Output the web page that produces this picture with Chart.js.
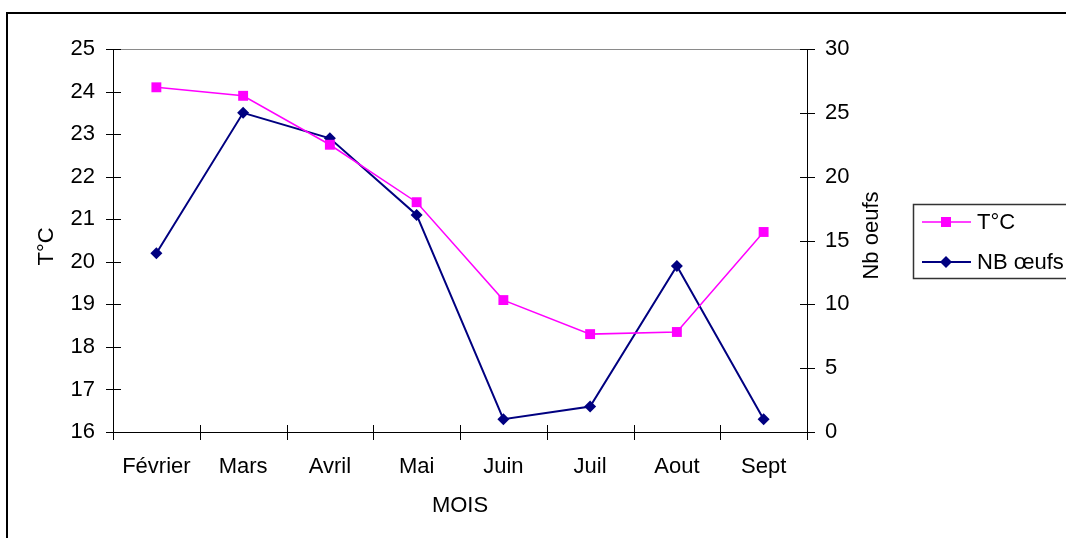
<!DOCTYPE html>
<html>
<head>
<meta charset="utf-8">
<script src="https://cdn.jsdelivr.net/npm/chart.js@4/dist/chart.umd.min.js"></script>
<style>
  html, body { margin: 0; padding: 0; background: #fff; }
  #wrap { position: relative; width: 1066px; height: 538px; overflow: hidden; }
  #frame { position: absolute; left: 6px; top: 12px; width: 1200px; height: 700px; border: 2px solid #000; box-sizing: border-box; }
  canvas { position: absolute; left: 0; top: 0; }
</style>
</head>
<body>
<div id="wrap">
  <div id="frame"></div>
  <canvas id="c" width="1066" height="538"></canvas>
</div>
<script>
const categories = ['Février', 'Mars', 'Avril', 'Mai', 'Juin', 'Juil', 'Aout', 'Sept'];
const tempValues = [24.1, 23.9, 22.75, 21.4, 19.1, 18.3, 18.35, 20.7];
const eggValues = [14, 25, 23, 17, 1, 2, 13, 1];
const tempAxis = [16, 25, 1];   // min, max, step
const eggAxis = [0, 30, 5];     // min, max, step
const seriesNames = ['T°C', 'NB œufs'];
const axisTitles = ['T°C', 'Nb oeufs', 'MOIS'];

const FONT = '"Liberation Sans", Arial, sans-serif';
const FS = 22;

const customPlugin = {
  id: 'custom',
  beforeDatasetsDraw(chart) {
    const ctx = chart.ctx;
    const a = chart.chartArea;
    const xs = chart.scales.x, ys = chart.scales.y, y1 = chart.scales.y1;
    ctx.save();
    ctx.strokeStyle = '#8a8a8a';
    ctx.lineWidth = 1;
    ctx.beginPath();
    ctx.moveTo(a.left, a.top + 0.5); ctx.lineTo(a.right, a.top + 0.5);
    ctx.stroke();
    ctx.strokeStyle = '#000';
    ctx.lineWidth = 1;
    ctx.beginPath();
    ctx.moveTo(a.left + 0.5, a.top); ctx.lineTo(a.left + 0.5, a.bottom);
    ctx.moveTo(a.right + 0.5, a.top); ctx.lineTo(a.right + 0.5, a.bottom);
    ctx.moveTo(a.left, a.bottom + 0.5); ctx.lineTo(a.right, a.bottom + 0.5);
    ys.ticks.forEach(t => {
      const y = Math.round(ys.getPixelForValue(t.value)) + 0.5;
      ctx.moveTo(a.left - 7, y); ctx.lineTo(a.left + 8, y);
    });
    y1.ticks.forEach(t => {
      const y = Math.round(y1.getPixelForValue(t.value)) + 0.5;
      ctx.moveTo(a.right - 7, y); ctx.lineTo(a.right + 8, y);
    });
    const n = categories.length;
    const w = xs.getPixelForValue(1) - xs.getPixelForValue(0);
    for (let i = 0; i <= n; i++) {
      const x = Math.round(xs.getPixelForValue(0) - w / 2 + i * w) + 0.5;
      ctx.moveTo(x, a.bottom - 7); ctx.lineTo(x, a.bottom + 8);
    }
    ctx.stroke();

    ctx.fillStyle = '#000';
    ctx.font = FS + 'px ' + FONT;
    ctx.textAlign = 'center';
    ctx.textBaseline = 'middle';
    const midY = (a.top + a.bottom) / 2;
    ctx.save();
    ctx.translate(47, midY + 6);
    ctx.rotate(-Math.PI / 2);
    ctx.fillText(axisTitles[0], 0, 0);
    ctx.restore();
    ctx.save();
    ctx.translate(872, midY - 5);
    ctx.rotate(-Math.PI / 2);
    ctx.fillText(axisTitles[1], 0, 0);
    ctx.restore();
    ctx.fillText(axisTitles[2], (a.left + a.right) / 2, 506);
    ctx.restore();
  },
  afterDraw(chart) {
    const ctx = chart.ctx;
    ctx.save();
    ctx.strokeStyle = '#333';
    ctx.lineWidth = 1.5;
    ctx.strokeRect(913.5, 204.5, 200, 74);
    ctx.font = FS + 'px ' + FONT;
    ctx.textAlign = 'left';
    ctx.textBaseline = 'middle';
    const rows = [222, 262];
    chart.data.datasets.forEach((ds, i) => {
      const y = rows[i];
      ctx.strokeStyle = ds.borderColor;
      ctx.lineWidth = ds.borderWidth;
      ctx.beginPath();
      ctx.moveTo(922, y); ctx.lineTo(971, y);
      ctx.stroke();
      ctx.fillStyle = ds.pointBackgroundColor;
      const cx = 946;
      if (ds.pointStyle === 'rect') {
        ctx.fillRect(cx - 5, y - 5, 10, 10);
      } else {
        ctx.beginPath();
        ctx.moveTo(cx, y - 6); ctx.lineTo(cx + 6, y); ctx.lineTo(cx, y + 6); ctx.lineTo(cx - 6, y);
        ctx.closePath(); ctx.fill();
      }
      ctx.fillStyle = '#000';
      ctx.fillText(ds.label, 977, y + 1);
    });
    ctx.restore();
  }
};

new Chart(document.getElementById('c'), {
  type: 'line',
  data: {
    labels: categories,
    datasets: [
      {
        label: seriesNames[0],
        data: tempValues,
        yAxisID: 'y',
        borderColor: '#FF00FF',
        backgroundColor: '#FF00FF',
        pointBackgroundColor: '#FF00FF',
        pointBorderColor: '#FF00FF',
        borderWidth: 1.5,
        pointStyle: 'rect',
        pointRadius: 7,
        pointBorderWidth: 0,
        tension: 0,
        fill: false
      },
      {
        label: seriesNames[1],
        data: eggValues,
        yAxisID: 'y1',
        borderColor: '#000080',
        backgroundColor: '#000080',
        pointBackgroundColor: '#000080',
        pointBorderColor: '#000080',
        borderWidth: 2,
        pointStyle: 'rectRot',
        pointRadius: 6,
        pointBorderWidth: 0,
        tension: 0,
        fill: false
      }
    ]
  },
  options: {
    responsive: false,
    animation: false,
    devicePixelRatio: 1,
    layout: { padding: { top: 49, right: 181, bottom: 0, left: 0 }, autoPadding: false },
    plugins: { legend: { display: false }, tooltip: { enabled: false } },
    scales: {
      x: {
        type: 'category',
        offset: true,
        grid: { display: false, drawTicks: false },
        border: { display: false },
        ticks: { color: '#000', font: { family: FONT, size: FS }, padding: 22, maxRotation: 0, autoSkip: false },
        afterFit(s) { s.height = 106; }
      },
      y: {
        position: 'left',
        min: tempAxis[0], max: tempAxis[1],
        grid: { display: false, drawTicks: false },
        border: { display: false },
        ticks: { stepSize: tempAxis[2], color: '#000', font: { family: FONT, size: FS }, padding: 18 },
        afterFit(s) { s.width = 113; }
      },
      y1: {
        position: 'right',
        min: eggAxis[0], max: eggAxis[1],
        grid: { display: false, drawTicks: false },
        border: { display: false },
        ticks: { stepSize: eggAxis[2], color: '#000', font: { family: FONT, size: FS }, padding: 18 },
        afterFit(s) { s.width = 78; }
      }
    }
  },
  plugins: [customPlugin]
});
</script>
</body>
</html>
